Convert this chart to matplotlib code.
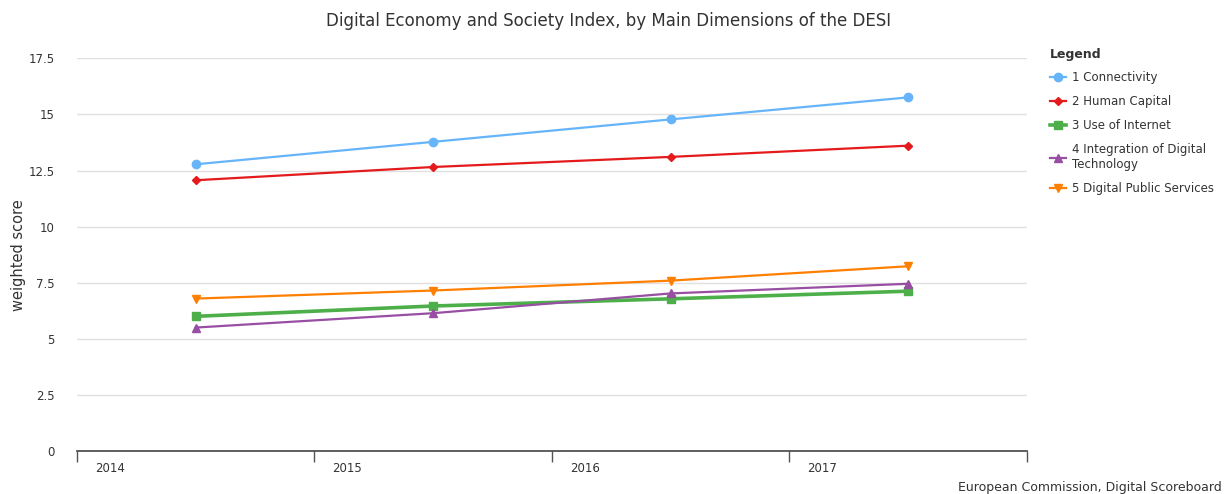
import matplotlib.pyplot as plt
from matplotlib.lines import Line2D

years = ['2014', '2015', '2016', '2017']
connectivity = [12.78, 13.78, 14.78, 15.76]
human_capital = [12.07, 12.66, 13.11, 13.61]
use_of_internet = [6.01, 6.47, 6.79, 7.13]
integration = [5.51, 6.15, 7.03, 7.46]
public_services = [6.80, 7.16, 7.60, 8.24]

names = ['1 Connectivity', '2 Human Capital', '3 Use of Internet',
         '4 Integration of Digital\nTechnology', '5 Digital Public Services']
series = [connectivity, human_capital, use_of_internet, integration, public_services]
colors = ['#66b5fb', '#e41a1c', '#4daf4a', '#984ea3', '#ff7f00']
markers = ['o', 'D', 's', '^', 'v']
msizes = [6, 4.5, 5.5, 6, 6]
widths = [1.6, 1.6, 2.6, 1.6, 1.6]

plt.rcParams['font.family'] = 'DejaVu Sans'
fig = plt.figure(figsize=(12.26, 4.94), dpi=100)
ax = fig.add_axes([77/1226, 1-451.3/494, 950/1226, 393/494])

x = list(range(len(years)))
for s, c, m, ms, lw in zip(series, colors, markers, msizes, widths):
    ax.plot(x, s, color=c, marker=m, markersize=ms, linewidth=lw, zorder=3)

ax.set_xlim(-0.5, len(years) - 0.5)
ax.set_ylim(0, 17.5)
ax.set_yticks([0, 2.5, 5, 7.5, 10, 12.5, 15, 17.5])
ax.set_yticklabels(['0', '2.5', '5', '7.5', '10', '12.5', '15', '17.5'])
ax.grid(axis='y', color='#e0e0e0', linewidth=1)
ax.set_axisbelow(True)
for sp in ['top', 'right', 'left']:
    ax.spines[sp].set_visible(False)
ax.spines['bottom'].set_color('#444444')
ax.spines['bottom'].set_linewidth(1.2)
ax.tick_params(axis='y', length=0, labelsize=8.5, colors='#333333', pad=16)

ax.set_xticks([i - 0.5 for i in range(len(years) + 1)])
ax.set_xticklabels([])
ax.tick_params(axis='x', length=8, width=1, color='#555555', direction='out')
for i, yr in enumerate(years):
    ax.annotate(yr, xy=(i - 0.5, 0), xycoords='data', xytext=(18, -11),
                textcoords='offset pixels', ha='left', va='top',
                fontsize=8.5, color='#333333')

ax.set_ylabel('weighted score', fontsize=10.5, color='#333333')
ax.yaxis.set_label_coords(-51/950, 0.5)

fig.text(609/1226, 1-21/494, 'Digital Economy and Society Index, by Main Dimensions of the DESI',
         ha='center', va='center', fontsize=12, color='#333333')
fig.text(1222/1226, 1-487/494, 'European Commission, Digital Scoreboard',
         ha='right', va='center', fontsize=9, color='#333333')

handles = [Line2D([], [], color=c, marker=m, markersize=ms, linewidth=lw)
           for c, m, ms, lw in zip(colors, markers, msizes, widths)]
leg = fig.legend(handles, names, loc='upper left', bbox_to_anchor=(1039/1226, 1-37/494),
                 frameon=False, fontsize=8.5, title='Legend', alignment='left',
                 handlelength=1.4, handletextpad=0.5, labelspacing=0.92,
                 title_fontproperties={'weight': 'bold', 'size': 9})
for t in leg.get_texts():
    t.set_color('#333333')
leg.get_title().set_color('#333333')

fig.savefig('out.png', dpi=100)
